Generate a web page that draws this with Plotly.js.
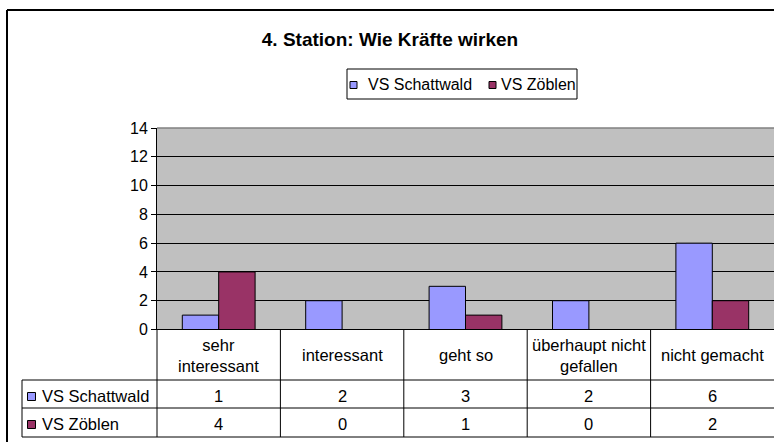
<!DOCTYPE html>
<html><head><meta charset="utf-8">
<script src="https://cdn.plot.ly/plotly-3.0.1.min.js"></script>
<style>html,body{margin:0;padding:0;background:#fff}#chart{width:774px;height:442px}</style>
</head><body><div id="chart"></div>
<script>
const chartTitle = "4. Station: Wie Kräfte wirken";
const categories = ["sehr interessant", "interessant", "geht so", "überhaupt nicht gefallen", "nicht gemacht"];
const categoryLabels = ["sehr<br>interessant", "interessant", "geht so", "überhaupt nicht<br>gefallen", "nicht gemacht"];
const seriesNames = ["VS Schattwald", "VS Zöblen"];
const vsSchattwald = [1, 2, 3, 2, 6];
const vsZoeblen = [4, 0, 1, 0, 2];
const seriesColors = ["#9999FF", "#993366"];
const yTickValues = [0, 2, 4, 6, 8, 10, 12, 14];

const W = 774, H = 442;
const px = x => x / W;
const py = y => 1 - y / H;
const FONT = "Liberation Sans, Arial, sans-serif";
const TXT = 16.5;

const seriesValues = [vsSchattwald, vsZoeblen];
const traces = seriesNames.map((name, s) => ({
  type: "bar",
  name: name,
  x: categories,
  y: seriesValues[s],
  marker: {color: seriesColors[s], line: {color: "#000", width: 1}},
  hoverinfo: "x+y+name"
}));

const line = (x0, y0, x1, y1, xref, color, width) => ({
  type: "line", xref: xref || "paper", yref: "paper",
  x0: x0, y0: y0, x1: x1, y1: y1,
  line: {color: color || "#000", width: width || 1}, layer: "above"
});

const shapes = [];
// outer chart border (top and left; right/bottom lie outside the picture)
shapes.push(line(px(7), py(10), 1.05, py(10), "paper", "#000", 2));
shapes.push(line(px(7), py(10), px(7), -0.05, "paper", "#000", 2));
// plot area top border
shapes.push(line(px(157), py(128), 1.01, py(128), "paper", "#808080", 1.5));
// data table lines
[380, 408, 437].forEach(y => shapes.push(line(px(22), py(y), 1.01, py(y))));
shapes.push(line(px(157), py(329.5), 1.01, py(329.5)));
shapes.push(line(px(22), py(380), px(22), py(437)));
shapes.push(line(px(157), py(329), px(157), py(437)));
for (let i = 0; i < categories.length - 1; i++) {
  shapes.push(line(i + 0.5, py(329.5), i + 0.5, py(437), "x"));
}
// legend box
shapes.push({type: "rect", xref: "paper", yref: "paper", x0: px(347), y0: py(69), x1: px(577), y1: py(99), line: {color: "#000", width: 1}, fillcolor: "#fff", layer: "above"});

const annotations = [];
// category header row
categories.forEach((c, i) => annotations.push({
  x: c, xref: "x", y: py(355), yref: "paper", text: categoryLabels[i], showarrow: false,
  xanchor: "center", yanchor: "middle", font: {family: FONT, size: TXT, color: "#000"}
}));
// value rows + row legend
const rowY = [395.5, 423.5];
seriesNames.forEach((name, s) => {
  seriesValues[s].forEach((v, i) => annotations.push({
    x: categories[i], xref: "x", y: py(rowY[s]), yref: "paper", text: String(v), showarrow: false,
    xanchor: "center", yanchor: "middle", font: {family: FONT, size: TXT, color: "#000"}
  }));
  shapes.push({type: "rect", xref: "paper", yref: "paper", x0: px(27.5), x1: px(35.5), y0: py(rowY[s] - 3), y1: py(rowY[s] + 5), fillcolor: seriesColors[s], line: {color: "#000", width: 1}, layer: "above"});
  annotations.push({
    x: px(40), xref: "paper", y: py(rowY[s]), yref: "paper", text: name, showarrow: false,
    xanchor: "left", yanchor: "middle", font: {family: FONT, size: TXT, color: "#000"}
  });
});
// custom legend
const legendItems = [{sq: 350, tx: 366}, {sq: 489, tx: 499}];
seriesNames.forEach((name, s) => {
  shapes.push({type: "rect", xref: "paper", yref: "paper", x0: px(legendItems[s].sq), x1: px(legendItems[s].sq + 7), y0: py(81.5), y1: py(88.5), fillcolor: seriesColors[s], line: {color: "#000", width: 1}, layer: "above"});
  annotations.push({
    x: px(legendItems[s].tx), xref: "paper", y: py(84), yref: "paper", text: name, showarrow: false,
    xanchor: "left", yanchor: "middle", font: {family: FONT, size: 16, color: "#000"}
  });
});

const layout = {
  width: W, height: H,
  margin: {l: 0, r: 0, t: 0, b: 0},
  paper_bgcolor: "#fff",
  plot_bgcolor: "#C0C0C0",
  showlegend: false,
  title: {text: chartTitle, x: px(390), xanchor: "center", xref: "paper", y: py(39), yanchor: "middle", yref: "paper",
    font: {family: FONT, size: 19, color: "#000", weight: "bold"}},
  barmode: "group",
  bargap: 0.41,
  bargroupgap: 0,
  xaxis: {
    domain: [px(157), 1.001],
    type: "category",
    showticklabels: false,
    ticks: "",
    showgrid: false,
    zeroline: false,
    showline: false,
    fixedrange: true
  },
  yaxis: {
    domain: [py(329.5), py(128)],
    range: [0, 14],
    tickvals: yTickValues,
    ticktext: yTickValues.map(String),
    ticks: "outside",
    ticklen: 5,
    tickcolor: "#000",
    tickwidth: 1,
    showline: true,
    linecolor: "#000",
    linewidth: 1,
    showgrid: true,
    gridcolor: "#000",
    gridwidth: 1,
    zeroline: false,
    tickfont: {family: FONT, size: 16, color: "#000"},
    fixedrange: true
  },
  shapes: shapes,
  annotations: annotations
};

Plotly.newPlot("chart", traces, layout, {displayModeBar: false, staticPlot: true});
</script>
</body></html>
